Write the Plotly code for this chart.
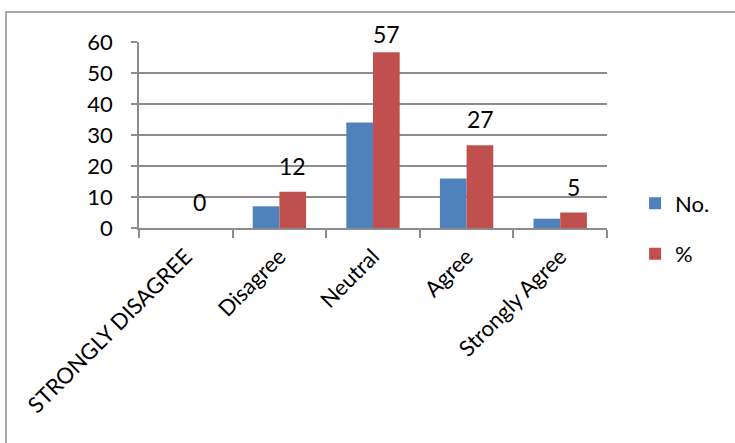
import plotly.graph_objects as go

categories = ["STRONGLY DISAGREE", "Disagree", "Neutral", "Agree", "Strongly Agree"]
counts = [0, 7, 34, 16, 3]
percents = [0, 11.67, 56.67, 26.67, 5]
percent_labels = ["0", "12", "57", "27", "5"]

FONT = "Lato"
GRID = "#8c8c8c"
PX_PER_UNIT = 186 / 60  # plot height / y range

fig = go.Figure()
fig.add_trace(go.Bar(
    x=categories, y=counts, name="No.",
    marker=dict(color="#4F81BD", line=dict(width=0)),
    legendgroup="a",
))
fig.add_trace(go.Bar(
    x=categories, y=percents, name="%",
    marker=dict(color="#C0504D", line=dict(width=0)),
    legendgroup="b",
))

# value labels above the % bars, kept inside the chart area near the top
for i, (v, t) in enumerate(zip(percents, percent_labels)):
    shift = min(26, (60 - v) * PX_PER_UNIT + 8)
    fig.add_annotation(
        x=i, y=v, xshift=13.5, yshift=shift, text=t, showarrow=False,
        font=dict(family=FONT, size=23, color="#000000"),
        xanchor="center", yanchor="middle",
    )

# outer chart frame
fig.add_shape(type="rect", xref="paper", yref="paper",
              x0=(6 - 139) / 468, x1=1.4, y0=-1.3, y1=1 + (42 - 12) / 186,
              line=dict(color="#8c8c8c", width=1.5), fillcolor="rgba(0,0,0,0)",
              layer="below")

fig.update_layout(
    width=735, height=443,
    margin=dict(l=139, r=128, t=42, b=215),
    paper_bgcolor="white", plot_bgcolor="white",
    barmode="group", bargap=0.43, bargroupgap=0,
    font=dict(family=FONT, size=20, color="#000000"),
    legend=dict(x=1.06, y=-0.005, xanchor="left", yanchor="middle",
                font=dict(family=FONT, size=22), tracegroupgap=19,
                itemwidth=30, bgcolor="rgba(0,0,0,0)"),
    showlegend=True,
)
fig.update_xaxes(
    type="category", tickangle=-45, tickson="boundaries",
    ticks="outside", ticklen=8, tickcolor=GRID, tickwidth=1.5,
    showline=True, linecolor=GRID, linewidth=2,
    showgrid=False, tickfont=dict(family=FONT, size=22),
    ticklabelstandoff=5,
)
fig.update_yaxes(
    range=[0, 60], dtick=10, ticks="outside", ticklen=6, tickcolor=GRID,
    tickwidth=1.5, showline=True, linecolor=GRID, linewidth=1.5,
    showgrid=True, gridcolor=GRID, gridwidth=2, zeroline=False,
    tickfont=dict(family=FONT, size=22), ticklabelstandoff=14,
)

fig.write_html("out.html")
